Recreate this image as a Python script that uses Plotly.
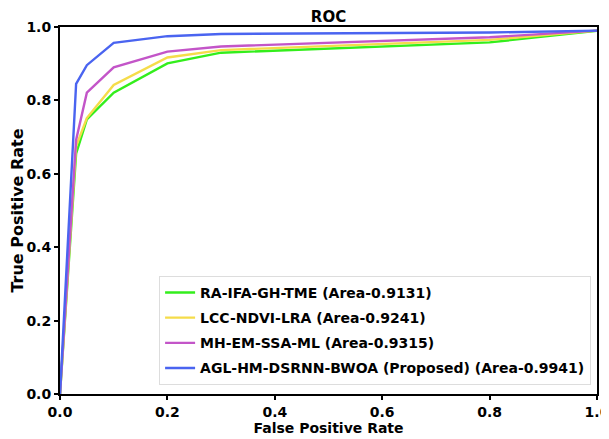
import plotly.graph_objects as go

fpr = [0.0, 0.03, 0.05, 0.1, 0.2, 0.3, 0.8, 1.0]
tpr_ra = [0.0, 0.655, 0.748, 0.821, 0.901, 0.930, 0.958, 0.99]
tpr_lcc = [0.0, 0.675, 0.752, 0.842, 0.917, 0.937, 0.965, 0.99]
tpr_mh = [0.0, 0.692, 0.821, 0.890, 0.933, 0.947, 0.972, 0.99]
tpr_agl = [0.0, 0.845, 0.896, 0.957, 0.975, 0.981, 0.985, 0.99]

names = [
    "RA-IFA-GH-TME (Area-0.9131)",
    "LCC-NDVI-LRA (Area-0.9241)",
    "MH-EM-SSA-ML (Area-0.9315)",
    "AGL-HM-DSRNN-BWOA (Proposed) (Area-0.9941)",
]
colors = ["#33ee1c", "#f5dc4a", "#c355c8", "#4a64f0"]
series = [tpr_ra, tpr_lcc, tpr_mh, tpr_agl]

FONT = "DejaVu Sans"

fig = go.Figure()
for i, (n, c, s) in enumerate(zip(names, colors, series)):
    fig.add_trace(go.Scatter(
        x=fpr, y=s, mode="lines", name=n,
        line=dict(color=c, width=2.4),
        legendgroup=f"g{i}",
    ))

axis_common = dict(
    range=[0, 1], dtick=0.2, tickformat=".1f",
    showgrid=False, zeroline=False, automargin=False,
    showline=True, linecolor="black", linewidth=2, mirror=True,
    ticks="outside", ticklen=4, tickwidth=1.5, tickcolor="black",
    ticklabeloverflow="allow",
    tickfont=dict(family=FONT, size=14, color="black", weight="bold"),
)

# page body has an 8px margin, so the figure is 8px smaller than the window
fig.update_layout(
    width=601, height=431,
    margin=dict(l=52, r=12, t=19, b=45, autoexpand=False),
    paper_bgcolor="white", plot_bgcolor="white",
    title=dict(text="<b>ROC</b>", x=0.5, xanchor="center", xref="paper",
               y=1, yref="paper", yanchor="bottom", pad=dict(b=5),
               automargin=False,
               font=dict(family=FONT, size=15, color="black")),
    xaxis=dict(**axis_common,
               title=dict(text="<b>False Positive Rate</b>", standoff=4,
                          font=dict(family=FONT, size=14, color="black"))),
    yaxis=dict(**axis_common,
               title=dict(text="<b>True Positive Rate</b>", standoff=9,
                          font=dict(family=FONT, size=16, color="black"))),
    showlegend=True,
    legend=dict(
        x=0.989, y=0.025, xanchor="right", yanchor="bottom",
        bgcolor="white", bordercolor="#dddddd", borderwidth=1,
        font=dict(family=FONT, size=14, color="black", weight="bold"),
        tracegroupgap=4, itemwidth=30,
    ),
)

fig.write_html("out.html")
